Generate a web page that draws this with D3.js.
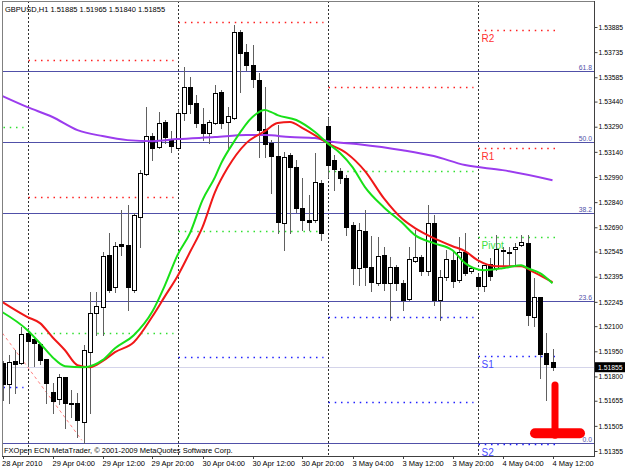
<!DOCTYPE html>
<html>
<head>
<meta charset="utf-8">
<script src="https://cdn.jsdelivr.net/npm/d3@7"></script>
<style>
body{margin:0;background:#fff}
svg{display:block;font-family:"Liberation Sans",Arial,sans-serif}
</style>
</head>
<body>
<svg id="chart" width="625" height="469"></svg>
<script>
// GBPUSD H1, bar 0 = 28 Apr 2010 20:00, bar 88 = 4 May 12:00
var opens  = [1.51879,1.51754,1.51891,1.51879,1.52058,1.52022,1.51992,1.51903,1.51706,1.51664,
              1.51795,1.51640,1.51640,1.51527,1.51945,1.52177,1.52213,1.52524,1.52333,1.52589,
              1.52583,1.52315,1.52751,1.53007,1.53234,1.53168,1.53318,1.53216,1.53162,1.53371,
              1.53527,1.53431,1.53306,1.53252,1.53312,1.53497,1.53318,1.53342,1.53855,1.53736,
              1.53658,1.53568,1.53276,1.53192,1.53115,1.52715,1.53121,1.53049,1.52804,1.52733,
              1.52733,1.52953,1.53294,1.53091,1.53025,1.52983,1.52703,1.52446,1.52667,1.52452,
              1.52356,1.52524,1.52356,1.52452,1.52356,1.52261,1.52488,1.52512,1.52428,1.52715,
              1.52255,1.52392,1.52494,1.52374,1.52542,1.52428,1.52392,1.52339,1.52470,1.52446,
              1.52553,1.52542,1.52559,1.52583,1.52595,1.52154,1.52273,1.51939,1.51885]
var highs  = [1.51891,1.51927,1.51956,1.52094,1.52088,1.52028,1.51998,1.51903,1.51759,1.51813,
              1.51795,1.51718,1.51700,1.51986,1.52303,1.52303,1.52542,1.52655,1.52601,1.52792,
              1.52822,1.52774,1.53031,1.53407,1.53252,1.53377,1.53330,1.53264,1.53389,1.53646,
              1.53586,1.53479,1.53401,1.53330,1.53539,1.53509,1.53407,1.53897,1.53867,1.53783,
              1.53777,1.53610,1.53527,1.53210,1.53300,1.53139,1.53133,1.53091,1.52983,1.52882,
              1.53133,1.52971,1.53342,1.53121,1.53043,1.53001,1.52721,1.52715,1.52792,1.52637,
              1.52631,1.52571,1.52512,1.52464,1.52374,1.52571,1.52673,1.52524,1.52822,1.52762,
              1.52434,1.52553,1.52553,1.52631,1.52655,1.52458,1.52404,1.52464,1.52506,1.52643,
              1.52571,1.52571,1.52595,1.52643,1.52643,1.52386,1.52273,1.52058,1.51965]
var lows   = [1.51658,1.51640,1.51700,1.51873,1.51861,1.51861,1.51873,1.51640,1.51580,1.51634,
              1.51491,1.51557,1.51437,1.51401,1.51580,1.52046,1.52046,1.52303,1.52303,1.52524,
              1.52195,1.52303,1.52571,1.53001,1.53091,1.53162,1.53192,1.53139,1.53156,1.53330,
              1.53371,1.53288,1.53210,1.53192,1.53306,1.53282,1.53150,1.53336,1.53497,1.53628,
              1.53527,1.53109,1.53109,1.52894,1.52655,1.52553,1.52655,1.52780,1.52673,1.52673,
              1.52721,1.52613,1.52989,1.52912,1.52953,1.52643,1.52351,1.52345,1.52345,1.52309,
              1.52345,1.52315,1.52136,1.52315,1.52195,1.52255,1.52482,1.52404,1.52404,1.52225,
              1.52136,1.52374,1.52333,1.52362,1.52404,1.52416,1.52315,1.52309,1.52374,1.52434,
              1.52464,1.52452,1.52464,1.52577,1.52106,1.52100,1.51789,1.51658,1.51840]
var closes = [1.51754,1.51885,1.51873,1.52052,1.52010,1.51998,1.51897,1.51759,1.51652,1.51795,
              1.51640,1.51634,1.51539,1.51956,1.52177,1.52219,1.52518,1.52315,1.52577,1.52577,
              1.52333,1.52762,1.53013,1.53234,1.53162,1.53312,1.53228,1.53174,1.53371,1.53527,
              1.53425,1.53312,1.53252,1.53318,1.53491,1.53312,1.53353,1.53855,1.53730,1.53658,
              1.53574,1.53270,1.53186,1.53115,1.52721,1.53109,1.53049,1.52804,1.52733,1.52721,
              1.52959,1.52655,1.53061,1.53037,1.52983,1.52691,1.52446,1.52673,1.52452,1.52362,
              1.52518,1.52356,1.52452,1.52356,1.52255,1.52500,1.52512,1.52428,1.52715,1.52255,
              1.52392,1.52500,1.52368,1.52542,1.52416,1.52446,1.52339,1.52464,1.52398,1.52559,
              1.52548,1.52536,1.52571,1.52601,1.52165,1.52273,1.51933,1.51873,1.51855]

// moving averages, [bar, price]
var maRed = [[0,1.52243],[4,1.52154],[6,1.52118],[8,1.52034],[10,1.51956],[12,1.51867],[14,1.51855],
             [16,1.51891],[18,1.51945],[21,1.52004],[24,1.52159],[26,1.52279],[28,1.52398],[30,1.52542],
             [32,1.52691],[34,1.52900],[36,1.53043],[39,1.53192],[42,1.53264],[44,1.53312],[46,1.53318],
             [48,1.53282],[51,1.53216],[52,1.53192],[55,1.53133],[58,1.53025],[61,1.52864],[64,1.52739],
             [66,1.52685],[69,1.52625],[72,1.52577],[74,1.52548],[76,1.52494],[79,1.52458],[83,1.52458],
             [85,1.52422],[88,1.52362]]
var maGreen = [[0,1.52183],[4,1.52076],[6,1.51998],[8,1.51915],[10,1.51861],[13,1.51855],[16,1.51897],
               [18,1.51968],[21,1.52046],[24,1.52189],[26,1.52345],[28,1.52524],[30,1.52655],[32,1.52852],
               [34,1.52989],[35,1.53073],[37,1.53198],[40,1.53348],[42,1.53389],[43,1.53377],[44,1.53359],
               [47,1.53330],[50,1.53258],[52,1.53192],[54,1.53133],[56,1.53049],[58,1.52930],[61,1.52810],
               [64,1.52715],[66,1.52643],[69,1.52595],[72,1.52553],[74,1.52476],[77,1.52434],[80,1.52446],
               [81,1.52452],[83,1.52464],[84,1.52446],[86,1.52416],[88,1.52356]]
var maPurple = [[0,1.53473],[4,1.53407],[8,1.53348],[12,1.53270],[16,1.53234],[20,1.53210],[24,1.53204],
                [28,1.53216],[34,1.53228],[39,1.53240],[42,1.53240],[46,1.53228],[50,1.53222],[52,1.53204],
                [57,1.53186],[64,1.53150],[69,1.53115],[74,1.53061],[80,1.53031],[88,1.52971]]

// daily pivot levels: first bar, last bar, price
var pivotRes = [[4,27,1.53688],[4,27,1.52870],[28,51,1.53915],[52,75,1.53527],[76,88,1.53867],[76,88,1.53163]]
var pivotMid = [[0,3,1.53288],[4,27,1.52058],[28,51,1.52667],[52,75,1.53025],[76,88,1.52631]]
var pivotSup = [[0,3,1.51736],[28,51,1.51915],[52,75,1.52154],[52,75,1.51646],[76,88,1.51921],[76,88,1.51395]]
var pivotNames = ["R2","R1","Pivot","S1","S2"]
var pivotToday = [1.53867,1.53163,1.52631,1.51921,1.51395]

var fibLow = 1.51401, fibHigh = 1.54994
var fibLevels = [0,23.6,38.2,50,61.8]
var fibNames = ["0.0","23.6","38.2","50.0","61.8"]

var daySeps = [4,28,52,76]
var trendLine = [[0,1.52058],[12.7,1.51419]]
var stopMark = {bar:88, top:1.51766, base:1.51461}

var priceTicks = [1.53885,1.53735,1.53585,1.53440,1.53290,1.53140,1.52990,1.52840,1.52690,
                  1.52545,1.52395,1.52245,1.52100,1.51950,1.51800,1.51655,1.51505,1.51355]
var timeBars = [0,8,16,24,32,40,48,56,64,72,80,88]
var timeLabels = ["28 Apr 2010","29 Apr 04:00","29 Apr 12:00","29 Apr 20:00","30 Apr 04:00","30 Apr 12:00",
                  "30 Apr 20:00","3 May 04:00","3 May 12:00","3 May 20:00","4 May 04:00","4 May 12:00"]
var lastPrice = 1.51855
var title = "GBPUSD,H1  1.51885 1.51965 1.51840 1.51855"
var copyright = "FXOpen ECN MetaTrader, \u00a9 2001-2009 MetaQuotes Software Corp."

var plot = {left:2, top:1, right:594, bottom:456}
var axisFont = "6.8px"

var xScale = d3.scaleLinear().domain([0,88]).range([2.5,552.5])
var yScale = d3.scaleLinear().domain([1.51355,1.53885]).range([451,27])
var px = function(b){return Math.round(xScale(b))+0.5}
var py = function(p){return Math.round(yScale(p))+0.5}

var svg = d3.select("#chart")

svg.append("defs").append("clipPath").attr("id","clip")
    .append("rect")
    .attr("x",plot.left).attr("y",plot.top)
    .attr("width",plot.right-plot.left).attr("height",plot.bottom-plot.top)

var graph = svg.append("g").attr("clip-path","url(#clip)")

// day separators
graph.selectAll(".sep").data(daySeps).enter().append("line")
    .attr("x1",function(d){return px(d)}).attr("x2",function(d){return px(d)})
    .attr("y1",plot.top).attr("y2",plot.bottom)
    .attr("stroke","#303030").attr("stroke-dasharray","2,2")

// bid line
graph.append("line")
    .attr("x1",plot.left).attr("x2",plot.right)
    .attr("y1",py(lastPrice)).attr("y2",py(lastPrice))
    .attr("stroke","#d4d4ea")

// fibo levels
var fibColor = "#5050a8"
var fibPrice = function(l){return fibLow + (fibHigh-fibLow)*l/100}
graph.selectAll(".fib").data(fibLevels).enter().append("line")
    .attr("x1",plot.left).attr("x2",plot.right)
    .attr("y1",function(d){return py(fibPrice(d))})
    .attr("y2",function(d){return py(fibPrice(d))})
    .attr("stroke",fibColor)
graph.selectAll(".fibtext").data(fibLevels).enter().append("text")
    .attr("x",plot.right-2)
    .attr("y",function(d){return py(fibPrice(d))-2})
    .attr("text-anchor","end")
    .attr("font-size",axisFont)
    .attr("fill",fibColor)
    .text(function(d,i){return fibNames[i]})

// pivot segments
var drawPivots = function(rows,color)
{
    graph.selectAll(null).data(rows).enter().append("line")
        .attr("x1",function(d){return px(d[0])})
        .attr("x2",function(d){return px(d[1])+2})
        .attr("y1",function(d){return py(d[2])})
        .attr("y2",function(d){return py(d[2])})
        .attr("stroke",color).attr("stroke-width",1.5)
        .attr("stroke-dasharray","1.5,4.75")
}
drawPivots(pivotRes,"#ff2020")
drawPivots(pivotMid,"#30e030")
drawPivots(pivotSup,"#2020ff")

var pivotColors = ["#ff3030","#ff3030","#40e040","#4848ff","#4848ff"]
graph.selectAll(".pvtext").data(pivotToday).enter().append("text")
    .attr("x",px(76)+3)
    .attr("y",function(d){return py(d)+11})
    .attr("font-size","10px")
    .attr("fill",function(d,i){return pivotColors[i]})
    .text(function(d,i){return pivotNames[i]})

// trend line
graph.append("line")
    .attr("x1",xScale(trendLine[0][0])).attr("y1",yScale(trendLine[0][1]))
    .attr("x2",xScale(trendLine[1][0])).attr("y2",yScale(trendLine[1][1]))
    .attr("stroke","#ff8080").attr("stroke-dasharray","3,3")

// candles
var bars = d3.range(opens.length)
graph.selectAll(".wick").data(bars).enter().append("line")
    .attr("x1",function(i){return px(i)}).attr("x2",function(i){return px(i)})
    .attr("y1",function(i){return py(highs[i])-0.5})
    .attr("y2",function(i){return py(lows[i])+0.5})
    .attr("stroke","#606060")

graph.selectAll(".body").data(bars).enter().append("rect")
    .attr("x",function(i){return px(i)-2})
    .attr("width",4)
    .attr("y",function(i){return py(Math.max(opens[i],closes[i]))})
    .attr("height",function(i){return Math.max(1,py(Math.min(opens[i],closes[i]))-py(Math.max(opens[i],closes[i])))})
    .attr("fill",function(i){return closes[i]<opens[i] ? "#000" : "#fff"})
    .attr("stroke","#000")

// moving averages
var lineGenerator = d3.line()
    .x(function(d){return xScale(d[0])})
    .y(function(d){return yScale(d[1])})
    .curve(d3.curveMonotoneX)

graph.append("path").attr("d",lineGenerator(maPurple))
    .attr("fill","none").attr("stroke","#9b3cee").attr("stroke-width",2)
graph.append("path").attr("d",lineGenerator(maRed))
    .attr("fill","none").attr("stroke","#f01818").attr("stroke-width",2)
graph.append("path").attr("d",lineGenerator(maGreen))
    .attr("fill","none").attr("stroke","#18e018").attr("stroke-width",2)

// stop sign object
var sx = xScale(stopMark.bar)+2.5
var sTop = yScale(stopMark.top), sBase = yScale(stopMark.base)
graph.append("line")
    .attr("x1",sx).attr("x2",sx).attr("y1",sTop+3).attr("y2",sBase+2)
    .attr("stroke","#ff0000").attr("stroke-width",7).attr("stroke-linecap","round")
graph.append("line")
    .attr("x1",sx-20).attr("x2",sx+25).attr("y1",sBase).attr("y2",sBase)
    .attr("stroke","#ff0000").attr("stroke-width",10).attr("stroke-linecap","round")

// texts inside chart
svg.append("text").attr("x",5).attr("y",12).attr("font-size","7.5px").text(title)
svg.append("text").attr("x",4).attr("y",453).attr("font-size","7.5px").text(copyright)

// frame
svg.append("line").attr("x1",plot.left+0.5).attr("x2",plot.left+0.5)
    .attr("y1",plot.top).attr("y2",plot.bottom).attr("stroke","#808080")
svg.append("line").attr("x1",plot.left).attr("x2",plot.right)
    .attr("y1",plot.top+0.5).attr("y2",plot.top+0.5).attr("stroke","#808080")
svg.append("line").attr("x1",plot.left).attr("x2",plot.right)
    .attr("y1",plot.bottom+0.5).attr("y2",plot.bottom+0.5).attr("stroke","#404040")

// price axis
var yAxis = d3.axisRight(yScale)
    .tickValues(priceTicks)
    .tickFormat(d3.format(".5f"))
    .tickSize(3)
    .tickPadding(1)
svg.append("g")
    .attr("transform","translate("+(plot.right+0.5)+",0)")
    .call(yAxis)
    .call(function(g){
        g.select(".domain").attr("d","M0,"+plot.top+"V"+(plot.bottom+1)).attr("stroke","#404040")
        g.selectAll("text").attr("font-size",axisFont).attr("font-family","Liberation Sans, Arial, sans-serif")
        g.selectAll("line").attr("stroke","#404040")
    })

// last price box
svg.append("rect").attr("x",plot.right+1).attr("y",yScale(lastPrice)-5)
    .attr("width",31).attr("height",10).attr("fill","#000")
svg.append("text").attr("x",plot.right+4).attr("y",yScale(lastPrice)+2.5)
    .attr("font-size",axisFont).attr("fill","#fff").text(lastPrice.toFixed(5))

// time axis
var timeAxis = svg.append("g")
timeAxis.selectAll("line").data(timeBars).enter().append("line")
    .attr("x1",function(d){return px(d)}).attr("x2",function(d){return px(d)})
    .attr("y1",plot.bottom).attr("y2",plot.bottom+3)
    .attr("stroke","#404040")
timeAxis.selectAll("text").data(timeBars).enter().append("text")
    .attr("x",function(d,i){return i==0 ? 2 : px(d)-1})
    .attr("y",466)
    .attr("font-size","7.5px")
    .text(function(d,i){return timeLabels[i]})
</script>
</body>
</html>
